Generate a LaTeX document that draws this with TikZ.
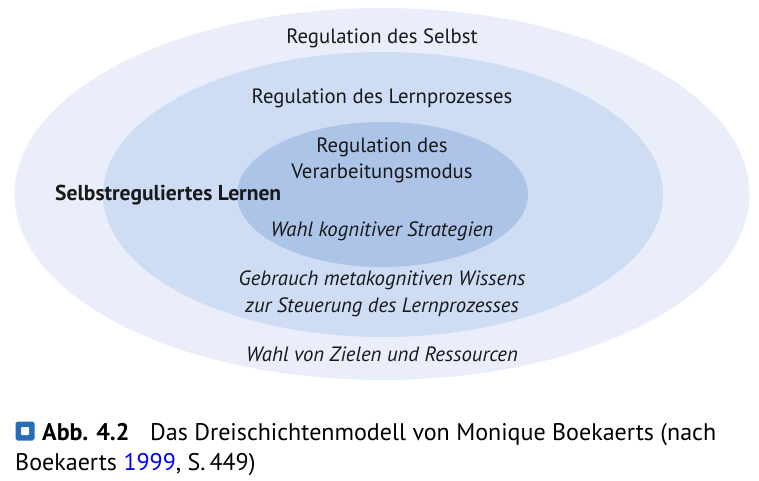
\documentclass[tikz,border=0pt]{standalone}
\usepackage{fontspec}
\setmainfont{PT Sans}
\usetikzlibrary{shapes.geometric}

\definecolor{ringouter}{RGB}{234,238,250}
\definecolor{ringmid}{RGB}{206,220,244}
\definecolor{ringinner}{RGB}{172,196,232}
\definecolor{figblue}{RGB}{38,110,185}

\begin{document}
\begin{tikzpicture}[x=0.03cm, y=-0.03cm]
        \tikzset{
          ring/.style={ellipse, draw=none, inner sep=0pt},
          lbl/.style={draw=none, fill=none, inner sep=0pt, anchor=center, align=center,
                      font=\fontsize{17.7}{22}\selectfont, text=black!90},
          captxt/.style={draw=none, fill=none, inner sep=0pt, anchor=base west,
                      font=\fontsize{20.5}{24}\selectfont}
        }
        \useasboundingbox (0,0) rectangle (759,481);

        % — the three layers —
        \node[ring, fill=ringouter, minimum width=735*0.03cm, minimum height=372*0.03cm] (selbst) at (382,194) {};
        \node[ring, fill=ringmid,   minimum width=560*0.03cm, minimum height=285*0.03cm] (lern)   at (383,194.5) {};
        \node[ring, fill=ringinner, minimum width=291*0.03cm, minimum height=145*0.03cm] (verarb) at (382.5,194.5) {};

        % — labels —
        \node[lbl] (tselbst) at (382,38)  {Regulation des Selbst};
        \node[lbl] (tlern)   at (382,98)  {Regulation des Lernprozesses};
        \node[lbl] (tverarb) at (382,160) {Regulation des\\Verarbeitungsmodus};
        \node[lbl, anchor=west, font=\fontsize{18.4}{22}\selectfont\bfseries] (tsrl) at (55,195) {Selbstreguliertes Lernen};
        \node[lbl, font=\fontsize{17.7}{22}\selectfont\itshape] (tstrat) at (382,231) {Wahl kognitiver Strategien};
        \node[lbl, font=\fontsize{17.7}{23}\selectfont\itshape] (tmeta)  at (382,294) {Gebrauch metakognitiven Wissens\\zur Steuerung des Lernprozesses};
        \node[lbl, font=\fontsize{17.7}{22}\selectfont\itshape] (tziel)  at (382,354) {Wahl von Zielen und Ressourcen};

        % — caption —
        \node[fill=figblue, rounded corners=1.5pt, minimum size=19*0.03cm, inner sep=0pt] (icon) at (25,431) {};
        \node[fill=white, rounded corners=0.8pt, minimum size=8*0.03cm, inner sep=0pt] (icondot) at (icon) {};
        \node[captxt, font=\fontsize{20.5}{24}\selectfont\bfseries] (abb) at (42,440) {Abb. 4.2};
        \node[captxt] (capa) at (150,440) {Das Dreischichtenmodell von Monique Boekaerts (nach};
        \node[captxt] (capb) at (15,470) {Boekaerts \textcolor{blue}{1999}, S.\,449)};
\end{tikzpicture}
\end{document}
